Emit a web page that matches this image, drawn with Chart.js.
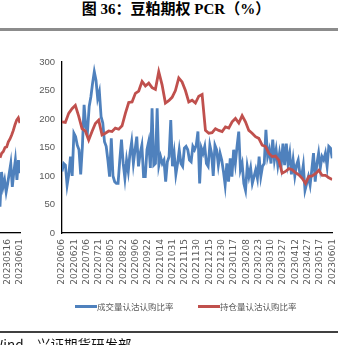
<!DOCTYPE html>
<html>
<head>
<meta charset="utf-8">
<script src="https://cdn.jsdelivr.net/npm/chart.js@4.4.0/dist/chart.umd.min.js"></script>
<style>
  html, body { margin: 0; padding: 0; background: #fff; }
  #page { position: relative; width: 349px; height: 345px; overflow: hidden; }
  #title { position: absolute; left: 0; top: 1px; width: 352px; text-align: center;
           font: bold 15px "Liberation Serif", "Noto Sans CJK SC", serif; line-height: 17px; color: #000; }
  .rule { position: absolute; left: 0; width: 338px; }
  canvas { position: absolute; }
  .sw { position: absolute; width: 22px; height: 3px; }
  .lg { position: absolute; font: 8.5px "Noto Sans CJK SC", sans-serif; color: #595959; line-height: 10px; white-space: nowrap; }
  .src { position: absolute; top: 338px; font: 13.5px "Noto Sans CJK SC", sans-serif; line-height: 13.5px; color: #111; white-space: nowrap; }
</style>
</head>
<body>
<div id="page">
  <div id="title">图 36：豆粕期权 PCR（%）</div>
  <div class="rule" style="top:28px;height:2.5px;background:#8c8c8c"></div>

  <canvas id="leftChart" width="40" height="260" style="left:0;top:40px"></canvas>
  <canvas id="mainChart" width="349" height="260" style="left:0;top:40px"></canvas>

  <div class="sw" style="left:75px;top:305px;background:#4F81BD"></div>
  <div class="lg" style="left:97px;top:301px">成交量认沽认购比率</div>
  <div class="sw" style="left:198px;top:305px;background:#C0504D"></div>
  <div class="lg" style="left:220px;top:301px">持仓量认沽认购比率</div>

  <div class="rule" style="top:331px;height:1.5px;background:#404040"></div>
  <div class="src" style="right:312px">资料来源：Wind，</div>
  <div class="src" style="left:37px">兴证期货研发部</div>
</div>

<script>
const tickLabels = ['20220606', '20220621', '20220706', '20220721', '20220805', '20220822',
  '20220906', '20220922', '20221014', '20221031', '20221115', '20221130', '20221215',
  '20221230', '20230117', '20230208', '20230223', '20230310', '20230327', '20230412',
  '20230427', '20230517', '20230601'];

// 成交量认沽认购比率
const volumeRatio = [
  108, 122, 119, 84, 103, 134, 100, 175, 169, 154, 146, 103, 152, 225, 187, 178, 222, 239,
  263, 283, 268, 236, 248, 204, 193, 160, 152, 128, 99, 166, 100, 90, 87, 87, 128, 164,
  122, 96, 128, 108, 140, 160, 122, 146, 169, 117, 140, 154, 99, 99, 146, 160, 114, 219,
  119, 122, 219, 119, 134, 122, 128, 90, 125, 134, 198, 117, 140, 103, 122, 146, 122, 117,
  149, 152, 146, 128, 125, 152, 146, 154, 178, 87, 149, 140, 152, 122, 117, 154, 140, 100,
  154, 146, 119, 140, 128, 108, 84, 122, 90, 131, 99, 146, 122, 152, 178, 111, 122, 87,
  75, 117, 99, 114, 87, 99, 111, 96, 134, 99, 117, 122, 181, 134, 146, 122, 164, 128,
  146, 119, 140, 119, 157, 119, 157, 122, 140, 103, 128, 100, 119, 128, 103, 99, 119, 75,
  87, 99, 84, 111, 140, 90, 122, 140, 114, 134, 128, 140, 117, 152, 149, 131
];

// 持仓量认沽认购比率
const openInterestRatio = [
  195, 194, 210, 218, 224, 205, 183, 179, 163, 178, 192, 198, 172, 175, 179, 178, 184, 182,
  188, 210, 229, 230, 245, 249, 266, 258, 263, 255, 252, 283, 260, 228, 232, 238, 250, 272,
  265, 250, 230, 233, 228, 240, 243, 180, 175, 176, 183, 180, 178, 186, 184, 195, 201, 193,
  206, 195, 180, 175, 169, 166, 154, 152, 140, 134, 135, 128, 105, 108, 113, 111, 106, 102,
  96, 87, 99, 100, 104, 110, 101, 101, 97, 94
];

// cut-off tail of the previous chart on the left edge
const leftTickLabels = ['20230516', '20230601'];
const leftVolumeRatio = [46, 107, 81, 93, 72, 87, 105, 122, 81, 107, 128, 93, 128, 105];
const leftOpenInterestRatio = [132, 140, 143, 150, 151, 160, 165, 172, 180, 190, 198, 202, 193];

const BLUE = '#4F81BD';
const RED = '#C0504D';
const GRAY = '#595959';

function spread(values, from, to) {
  return values.map((v, i) => ({ x: from + i * (to - from) / (values.length - 1), y: v }));
}

function lineSet(values, color, order, from, to) {
  return {
    data: spread(values, from, to),
    borderColor: color,
    borderWidth: 2.8,
    pointRadius: 0,
    tension: 0,
    order: order
  };
}

function xAxis(labels, min, max) {
  return {
    type: 'linear',
    min: min,
    max: max,
    grid: { display: false, drawTicks: false },
    border: { display: true, color: '#000', width: 1.3 },
    afterBuildTicks: s => { s.ticks = labels.map((_, i) => ({ value: i })); },
    afterFit: s => { s.height = 67; },
    ticks: {
      autoSkip: false,
      minRotation: 90,
      maxRotation: 90,
      padding: 6,
      color: GRAY,
      font: { family: 'DejaVu Sans', size: 9 },
      callback: v => labels[v]
    }
  };
}

const common = {
  type: 'line',
  options: {
    responsive: false,
    animation: false,
    events: [],
    plugins: { legend: { display: false }, tooltip: { enabled: false } }
  }
};

new Chart(document.getElementById('mainChart'), {
  ...common,
  data: {
    datasets: [
      lineSet(volumeRatio, BLUE, 1, 0, tickLabels.length - 1),
      lineSet(openInterestRatio, RED, 0, 0, tickLabels.length - 1)
    ]
  },
  options: {
    ...common.options,
    layout: { padding: { top: 22, right: 16, left: 0, bottom: 0 } },
    scales: {
      x: xAxis(tickLabels, 0, tickLabels.length - 1),
      y: {
        min: 0,
        max: 300,
        grid: { display: false, drawTicks: false },
        border: { display: true, color: '#000', width: 1.3 },
        afterFit: s => { s.width = 62; },
        ticks: {
          stepSize: 50,
          padding: 7,
          color: GRAY,
          font: { family: 'Liberation Sans', size: 9.5 }
        }
      }
    }
  }
});

new Chart(document.getElementById('leftChart'), {
  ...common,
  data: {
    datasets: [
      lineSet(leftVolumeRatio, BLUE, 1, -0.63, 1),
      lineSet(leftOpenInterestRatio, RED, 0, -0.63, 1)
    ]
  },
  options: {
    ...common.options,
    layout: { padding: { top: 22, right: 20, left: 0, bottom: 0 } },
    scales: {
      x: xAxis(leftTickLabels, -0.63, 1),
      y: { display: false, min: 0, max: 300 }
    }
  }
});
</script>
</body>
</html>
